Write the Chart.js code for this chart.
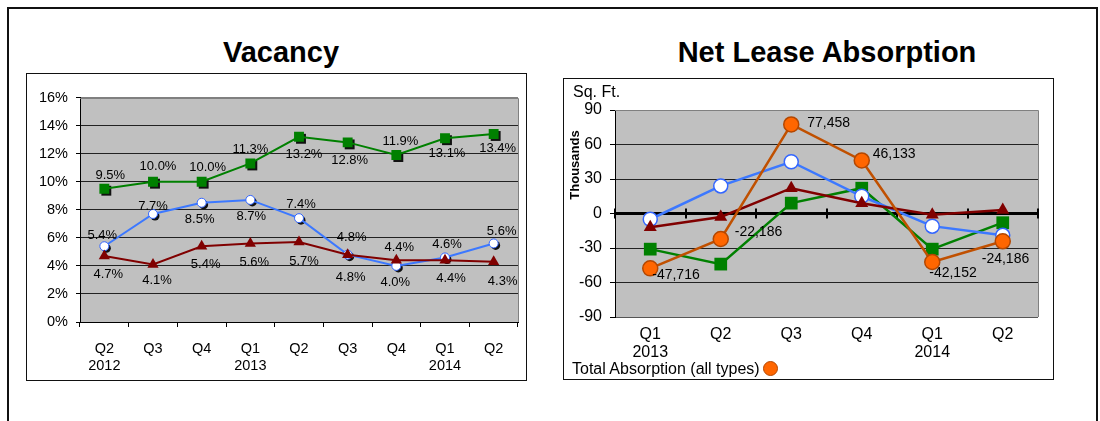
<!DOCTYPE html>
<html>
<head>
<meta charset="utf-8">
<script src="https://cdn.jsdelivr.net/npm/chart.js@4.4.0/dist/chart.umd.min.js"></script>
<style>
    body { margin: 0; width: 1100px; height: 421px; overflow: hidden; position: relative; background: #fff;
           font-family: "Liberation Sans", Arial, sans-serif; color: #000; }
    .frame { position: absolute; left: 7px; top: 7px; width: 1091px; height: 500px; border: 2px solid #111; box-sizing: border-box; }
    .title { position: absolute; top: 38px; font-size: 29px; line-height: 29px; font-weight: bold; white-space: nowrap; transform: translateX(-50%); }
    .box { position: absolute; border: 1px solid #111; box-sizing: border-box; background: #fff; }
    .box canvas { display: block; }
    .note { position: absolute; white-space: nowrap; }
    .dot { display: inline-block; width: 13px; height: 13px; border-radius: 50%; background: #ff6600; border: 1.5px solid #b34700; vertical-align: -2px; margin-left: 3px; }
</style>
</head>
<body>
<div class="frame"></div>
<div class="title" style="left:281px">Vacancy</div>
<div class="title" style="left:827px">Net Lease Absorption</div>

<div class="box" style="left:26px; top:73px; width:501px; height:308px">
    <canvas id="vacancy" width="499" height="306"></canvas>
</div>
<div class="box" style="left:563px; top:78px; width:491px; height:302px">
    <canvas id="absorption" width="489" height="300"></canvas>
</div>
<div class="note" style="left:573px; top:83px; font-size:16px">Sq. Ft.</div>
<div class="note" style="left:574px; top:165px; font-size:13px; font-weight:bold; transform:translate(-50%,-50%) rotate(-90deg)">Thousands</div>
<div class="note" style="left:572px; top:360px; font-size:16px">Total Absorption (all types)<span class="dot"></span></div>

<script>
// Vacancy (percent)
const vacancyQuarters = [['Q2', '2012'], 'Q3', 'Q4', ['Q1', '2013'], 'Q2', 'Q3', 'Q4', ['Q1', '2014'], 'Q2'];
const vacancyGreen = [9.5, 10.0, 10.0, 11.3, 13.2, 12.8, 11.9, 13.1, 13.4];
const vacancyBlue = [5.4, 7.7, 8.5, 8.7, 7.4, 4.8, 4.0, 4.6, 5.6];
const vacancyRed = [4.7, 4.1, 5.4, 5.6, 5.7, 4.8, 4.4, 4.4, 4.3];
const vacancyTicks = { min: 0, max: 16, step: 2 };

// Net lease absorption (sq. ft.)
const absorptionQuarters = [['Q1', '2013'], 'Q2', 'Q3', 'Q4', ['Q1', '2014'], 'Q2'];
const absorptionTotal = [-47716, -22186, 77458, 46133, -42152, -24186];
const absorptionBlue = [-5000, 24000, 45000, 15000, -11000, -19000];
const absorptionRed = [-12000, -3000, 22000, 9000, -1000, 3000];
const absorptionGreen = [-31000, -44000, 9000, 22000, -31000, -8000];
const absorptionTicks = { min: -90000, max: 90000, step: 30000 };

Chart.defaults.font.family = '"Liberation Sans", Arial, sans-serif';
Chart.defaults.color = '#000';
Chart.defaults.animation = false;

// grey plot background + grey top/right edges
const plotFrame = {
    id: 'plotFrame',
    beforeDraw(chart) {
        const { ctx, chartArea: a } = chart;
        ctx.save();
        ctx.fillStyle = '#c0c0c0';
        ctx.fillRect(a.left, a.top, a.right - a.left, a.bottom - a.top);
        ctx.restore();
    },
    beforeDatasetsDraw(chart) {
        const { ctx, chartArea: a } = chart;
        ctx.save();
        ctx.strokeStyle = '#808080';
        ctx.lineWidth = 1;
        ctx.beginPath();
        ctx.moveTo(a.left, Math.round(a.top) + 0.5);
        ctx.lineTo(Math.round(a.right) + 0.5, Math.round(a.top) + 0.5);
        ctx.lineTo(Math.round(a.right) + 0.5, a.bottom);
        ctx.stroke();
        ctx.restore();
    }
};

// black zero line with tick marks between quarters
const zeroAxis = {
    id: 'zeroAxis',
    beforeDatasetsDraw(chart) {
        const { ctx, chartArea: a, scales: { x, y } } = chart;
        const y0 = y.getPixelForValue(0);
        const n = x.ticks.length;
        ctx.save();
        ctx.strokeStyle = '#000';
        ctx.lineWidth = 3;
        ctx.beginPath();
        ctx.moveTo(a.left, y0);
        ctx.lineTo(a.right, y0);
        ctx.stroke();
        ctx.lineWidth = 2;
        ctx.beginPath();
        for (let i = 0; i <= n; i++) {
            const px = i === 0 ? a.left : i === n ? a.right : (x.getPixelForTick(i - 1) + x.getPixelForTick(i)) / 2;
            ctx.moveTo(Math.round(px), y0 - 5);
            ctx.lineTo(Math.round(px), y0 + 5);
        }
        ctx.stroke();
        ctx.restore();
    }
};

// dark drop shadow under markers
function markerShadow(indexes, off) {
    return {
        id: 'markerShadow',
        beforeDatasetDraw(chart, args) {
            if (!indexes.includes(args.index)) return;
            const ctx = chart.ctx;
            ctx.save();
            ctx.fillStyle = '#111';
            ctx.strokeStyle = '#111';
            args.meta.data.forEach(pt => {
                const o = pt.options;
                Chart.helpers.drawPoint(ctx, { pointStyle: o.pointStyle, radius: o.radius, rotation: 0, borderWidth: 0 }, pt.x + off, pt.y + off);
            });
            ctx.restore();
        }
    };
}

// value labels next to points
function pointLabels(sets, font, align, format) {
    return {
        id: 'pointLabels',
        afterDatasetsDraw(chart) {
            const ctx = chart.ctx;
            ctx.save();
            ctx.font = font;
            ctx.fillStyle = '#000';
            ctx.textAlign = align;
            ctx.textBaseline = 'middle';
            sets.forEach(s => {
                const meta = chart.getDatasetMeta(s.index);
                const values = chart.data.datasets[s.index].data;
                meta.data.forEach((pt, i) => {
                    ctx.fillText(format(values[i]), pt.x + s.dx[i], pt.y + s.dy[i]);
                });
            });
            ctx.restore();
        }
    };
}

// ---- Vacancy ----
new Chart(document.getElementById('vacancy'), {
    type: 'line',
    data: {
        labels: vacancyQuarters,
        datasets: [
            { data: vacancyRed, borderColor: '#800000', backgroundColor: '#800000', borderWidth: 2,
              pointStyle: 'triangle', pointRadius: 6.5, pointBorderWidth: 0 },
            { data: vacancyBlue, borderColor: '#3c78ff', backgroundColor: '#fff', borderWidth: 2,
              pointStyle: 'circle', pointRadius: 4.5, pointBorderColor: '#3366ff', pointBorderWidth: 1 },
            { data: vacancyGreen, borderColor: '#008000', backgroundColor: '#008000', borderWidth: 2,
              pointStyle: 'rect', pointRadius: 7, pointBorderWidth: 0 }
        ]
    },
    options: {
        responsive: false,
        layout: { padding: { top: 23.5, right: 8, left: 0, bottom: 0 } },
        plugins: { legend: { display: false }, tooltip: { enabled: false } },
        elements: { line: { tension: 0 } },
        scales: {
            x: {
                offset: true,
                grid: { display: true, drawOnChartArea: false, drawTicks: true, tickLength: 5, color: '#000', offset: true },
                border: { color: '#000' },
                ticks: { font: { size: 14.5, lineHeight: '17px' }, padding: 13.5, maxRotation: 0, autoSkip: false },
                afterFit(s) { s.height = 58; }
            },
            y: {
                min: vacancyTicks.min, max: vacancyTicks.max,
                grid: { color: c => c.tick.value === vacancyTicks.max ? '#808080' : '#222', tickColor: '#000', tickLength: 4 },
                border: { color: '#000' },
                ticks: { stepSize: vacancyTicks.step, font: { size: 14.5 }, padding: 8, callback: v => v + '%' },
                afterFit(s) { s.width = 53; }
            }
        }
    },
    plugins: [
        plotFrame,
        markerShadow([1, 2], 2),
        pointLabels([
            { index: 2, dx: [6, 5, 6, 0, 5, 2, 4, 2, 4], dy: [-13, -15, -14, -14, 18, 18, -14, 15, 14] },
            { index: 1, dx: [-2, 0, -2, 1, 2, 4, -1, 2, 8], dy: [-11, -8, 17, 16, -14, -17, 17, -13, -12] },
            { index: 0, dx: [4, 4, 4, 4, 5, 3, 3, 6, 9], dy: [18, 16, 18, 19, 19, 23, -13, 18, 20] }
        ], '13px "Liberation Sans", Arial, sans-serif', 'center', v => v.toFixed(1) + '%')
    ]
});

// ---- Net Lease Absorption ----
new Chart(document.getElementById('absorption'), {
    type: 'line',
    data: {
        labels: absorptionQuarters,
        datasets: [
            { data: absorptionTotal, label: 'Total Absorption (all types)', borderColor: '#c05000', backgroundColor: '#ff6600',
              borderWidth: 2.5, pointStyle: 'circle', pointRadius: 7.5, pointBorderColor: '#b34700', pointBorderWidth: 1.5 },
            { data: absorptionRed, borderColor: '#800000', backgroundColor: '#800000', borderWidth: 2.5,
              pointStyle: 'triangle', pointRadius: 7.5, pointBorderWidth: 0 },
            { data: absorptionBlue, borderColor: '#3c78ff', backgroundColor: '#fff', borderWidth: 2.5,
              pointStyle: 'circle', pointRadius: 7, pointBorderColor: '#3366ff', pointBorderWidth: 1.5 },
            { data: absorptionGreen, borderColor: '#008000', backgroundColor: '#008000', borderWidth: 2.5,
              pointStyle: 'rect', pointRadius: 9, pointBorderWidth: 0 }
        ]
    },
    options: {
        responsive: false,
        layout: { padding: { top: 31, right: 15, left: 0, bottom: 0 } },
        plugins: { legend: { display: false }, tooltip: { enabled: false } },
        elements: { line: { tension: 0 } },
        scales: {
            x: {
                offset: true,
                grid: { display: false, drawTicks: false },
                border: { display: false },
                ticks: { font: { size: 16, lineHeight: '18px' }, padding: 9, maxRotation: 0, autoSkip: false },
                afterFit(s) { s.height = 62; }
            },
            y: {
                min: absorptionTicks.min, max: absorptionTicks.max,
                grid: { color: c => c.tick.value === absorptionTicks.max ? '#808080' : c.tick.value === absorptionTicks.min ? '#555' : '#222',
                        tickColor: '#000', tickLength: 5 },
                border: { color: '#000' },
                ticks: { stepSize: absorptionTicks.step, font: { size: 16 }, padding: 8, callback: v => v / 1000 },
                afterFit(s) { s.width = 51; }
            }
        }
    },
    plugins: [
        plotFrame,
        zeroAxis,
        pointLabels([
            { index: 0, dx: [2, 14, 16, 11, -3, -21], dy: [7, -7, -1, -6, 11, 18] }
        ], '14px "Liberation Sans", Arial, sans-serif', 'left', v => Math.round(v).toLocaleString('en-US'))
    ]
});
</script>
</body>
</html>
